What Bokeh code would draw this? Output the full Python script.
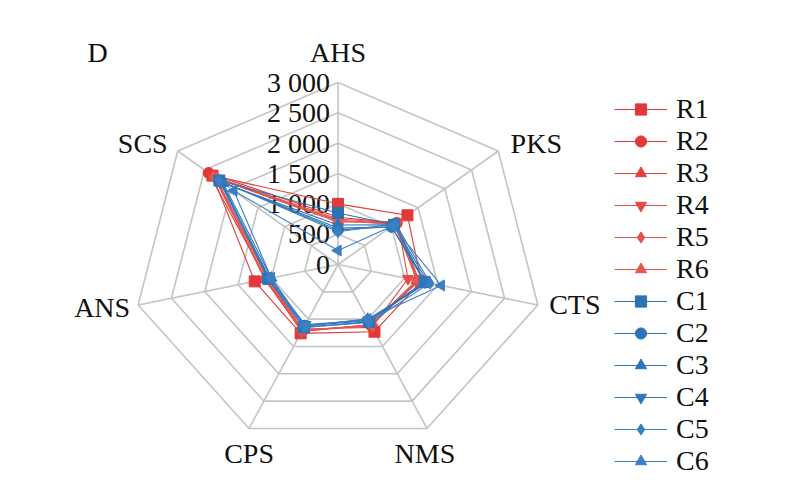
import numpy as np
from bokeh.plotting import figure
from bokeh.models import ColumnDataSource, Legend, LegendItem, Range1d
from bokeh.core.properties import value
from bokeh.embed import file_html
from bokeh.resources import INLINE

# ---------------- data ----------------
categories = ["AHS", "PKS", "CTS", "NMS", "CPS", "ANS", "SCS"]
ring_ticks = [0, 500, 1000, 1500, 2000, 2500, 3000]
tick_labels = ["0", "500", "1 000", "1 500", "2 000", "2 500", "3 000"]
panel_label = "D"
series_names = ["R1", "R2", "R3", "R4", "R5", "R6", "C1", "C2", "C3", "C4", "C5", "C6"]

R1 = [1000, 1300, 1250, 1230, 1260, 1250, 2350]
R2 = [780, 1100, 1200, 1120, 1200, 1080, 2420]
R3 = [720, 1080, 1180, 1100, 1220, 1100, 2300]
R4 = [700, 1120, 1050, 1150, 1180, 1050, 2280]
R5 = [750, 1100, 1220, 1100, 1230, 1080, 2330]
R6 = [730, 1050, 1200, 1120, 1200, 1060, 2300]
C1 = [850, 1050, 1300, 1050, 1150, 1050, 2220]
C2 = [570, 1000, 1320, 1030, 1120, 1030, 2200]
C3 = [650, 1050, 1350, 1000, 1130, 1000, 2150]
C4 = [600, 1000, 1300, 1020, 1100, 1040, 2180]
C5 = [540, 1080, 1380, 1060, 1150, 1020, 2230]
C6 = [230, 1020, 1550, 1000, 1120, 1000, 1950]
series_values = [R1, R2, R3, R4, R5, R6, C1, C2, C3, C4, C5, C6]

# ---------------- styles ----------------
colors = ["#E1393B", "#E1393B", "#E2403E", "#E44B47", "#E5534D", "#E5574F",
          "#2A73B5", "#2A73B5", "#2C75B7", "#2F77B9", "#3A7FC0", "#3D80C1"]
markers = ["square", "circle", "triangle", "inverted_triangle", "diamond", "triangle",
           "square", "circle", "triangle", "inverted_triangle", "diamond", "triangle"]
marker_angles = [0, 0, 0, 0, 0, np.pi / 2, 0, 0, 0, 0, 0, np.pi / 2]
marker_sizes = [11, 11, 11, 11, 12, 11, 11, 11, 11, 11, 12, 11]
FONT = "'Liberation Serif', 'Times New Roman', serif"
FS = "28px"
GRID = "#C4C4C4"

W, H = 780, 477
cx_px, cy_px = 337.5, 264.0   # centre in picture pixels
ox, oy = 0.0, 0.0             # frame origin in picture pixels
sx, sy = 205.0, 182.0         # pixels per unit radius (x, y)
vmax = ring_ticks[-1]

p = figure(width=W, height=H, output_backend="svg", toolbar_location=None,
           x_range=Range1d((ox - cx_px) / sx, (ox + W - cx_px) / sx),
           y_range=Range1d((cy_px - oy - H) / sy, (cy_px - oy) / sy),
           min_border=0)
p.axis.visible = False
p.grid.visible = False
p.outline_line_color = None
p.background_fill_color = "white"
p.border_fill_color = "white"

n = len(categories)
theta = np.pi / 2 - 2 * np.pi * np.arange(n) / n
ct, st = np.cos(theta), np.sin(theta)

# rings
for t in ring_ticks[1:]:
    r = t / vmax
    xs = list(r * ct) + [r * ct[0]]
    ys = list(r * st) + [r * st[0]]
    p.line(xs, ys, line_color=GRID, line_width=1.6)
# spokes
p.multi_line([[0, c] for c in ct], [[0, s] for s in st], line_color=GRID, line_width=1.6)

# tick labels
p.text(x=[-8 / sx] * len(ring_ticks), y=[t / vmax for t in ring_ticks], text=tick_labels,
       text_align="right", text_baseline="middle", text_font=value(FONT),
       text_font_size=FS, text_color="#111111")

# category labels (pixel offsets from the outer vertex)
lab_off = [(0, -30), (38, -8), (37, 0), (-2, 25), (0, 25), (-36, 3), (-35, -8)]
lx = [ct[i] + lab_off[i][0] / sx for i in range(n)]
ly = [st[i] - lab_off[i][1] / sy for i in range(n)]
p.text(x=lx, y=ly, text=categories, text_align="center", text_baseline="middle",
       text_font=value(FONT), text_font_size=FS, text_color="#111111")

# panel label
p.text(x=[(97 - cx_px) / sx], y=[(cy_px - 52) / sy], text=[panel_label],
       text_align="center", text_baseline="middle", text_font=value(FONT),
       text_font_size=FS, text_color="#111111")

# series
items = []
for name, vals, col, mk, ang, ms in zip(series_names, series_values, colors, markers,
                                         marker_angles, marker_sizes):
    r = np.array(vals) / vmax
    xs = r * ct
    ys = r * st
    ln = p.line(list(xs) + [xs[0]], list(ys) + [ys[0]], line_color=col, line_width=1.1)
    src = ColumnDataSource(dict(x=xs, y=ys, ang=[ang] * n))
    sc = p.scatter("x", "y", source=src, marker=mk, angle="ang", size=ms,
                   fill_color=col, line_color=col)
    items.append(LegendItem(label=name, renderers=[ln, sc], index=0))

legend = Legend(items=items, location=(614, 0), orientation="vertical",
                label_text_font=FONT, label_text_font_size=FS, label_text_color="#111111",
                glyph_width=53, glyph_height=28, label_height=31, label_standoff=9,
                spacing=0, padding=0, margin=0, border_line_color=None,
                background_fill_alpha=0)
p.add_layout(legend, "center")

open("out.html", "w").write(file_html(p, INLINE))
